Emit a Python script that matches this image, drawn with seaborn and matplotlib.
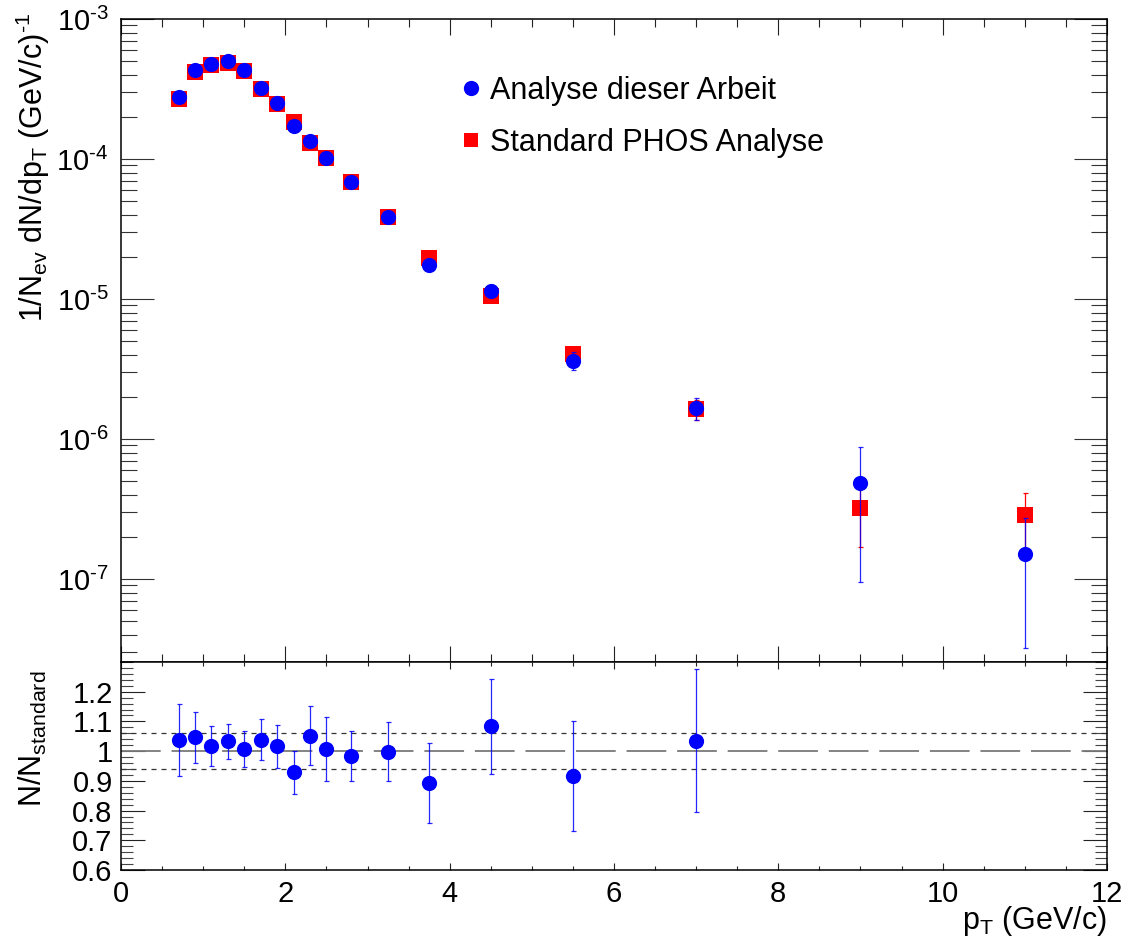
import numpy as np
import pandas as pd
import matplotlib
matplotlib.use("Agg")
import matplotlib.pyplot as plt
import seaborn as sns
from matplotlib.ticker import (MultipleLocator, LogLocator, FuncFormatter, NullFormatter,
                               FixedLocator)
from matplotlib.lines import Line2D

# ---------------- data ----------------
pt = [0.7, 0.9, 1.1, 1.3, 1.5, 1.7, 1.9, 2.1, 2.3, 2.5, 2.8, 3.25, 3.75, 4.5, 5.5, 7.0, 9.0, 11.0]
yield_this = [2.79e-4, 4.30e-4, 4.77e-4, 4.99e-4, 4.32e-4, 3.24e-4, 2.50e-4, 1.72e-4, 1.35e-4,
              1.01e-4, 6.89e-5, 3.83e-5, 1.75e-5, 1.15e-5, 3.63e-6, 1.67e-6, 4.85e-7, 1.52e-7]
err_this = [1.6e-5, 1.9e-5, 1.6e-5, 1.5e-5, 1.3e-5, 1.1e-5, 8.5e-6, 6.5e-6, 6.5e-6,
            5.5e-6, 3.0e-6, 2.0e-6, 1.1e-6, 1.0e-6, 0.52e-6, 0.30e-6, 3.9e-7, 1.2e-7]
yield_std = [2.68e-4, 4.16e-4, 4.69e-4, 4.85e-4, 4.28e-4, 3.15e-4, 2.47e-4, 1.83e-4, 1.30e-4,
             1.01e-4, 6.90e-5, 3.83e-5, 1.97e-5, 1.05e-5, 4.05e-6, 1.63e-6, 3.21e-7, 2.85e-7]
err_std = [1.2e-5, 1.5e-5, 1.3e-5, 1.2e-5, 1.0e-5, 0.9e-5, 7.0e-6, 5.0e-6, 5.0e-6,
           4.0e-6, 2.5e-6, 1.6e-6, 0.9e-6, 0.8e-6, 0.47e-6, 0.26e-6, 1.51e-7, 1.26e-7]

pt_ratio = [0.7, 0.9, 1.1, 1.3, 1.5, 1.7, 1.9, 2.1, 2.3, 2.5, 2.8, 3.25, 3.75, 4.5, 5.5, 7.0]
ratio = [1.037, 1.046, 1.016, 1.033, 1.008, 1.038, 1.016, 0.929, 1.052, 1.008, 0.985, 0.998,
         0.892, 1.083, 0.916, 1.035]
ratio_err = [0.120, 0.087, 0.067, 0.060, 0.060, 0.069, 0.072, 0.073, 0.099, 0.108, 0.084, 0.099,
             0.135, 0.159, 0.185, 0.240]

ratio_ticks = [0.6, 0.7, 0.8, 0.9, 1.0, 1.1, 1.2]
ratio_ticklabels = ['0.6', '0.7', '0.8', '0.9', '1', '1.1', '1.2']

label_this = "Analyse dieser Arbeit"
label_std = "Standard PHOS Analyse"

# ---------------- style ----------------
sns.set_theme(style="white")
plt.rcParams['font.family'] = ['Liberation Sans', 'DejaVu Sans']
plt.rcParams['mathtext.fontset'] = 'custom'
plt.rcParams['mathtext.rm'] = 'Liberation Sans'
plt.rcParams['mathtext.it'] = 'Liberation Sans:italic'
plt.rcParams['mathtext.default'] = 'regular'
for k in ['text.color', 'axes.labelcolor', 'xtick.color', 'ytick.color']:
    plt.rcParams[k] = 'black'

W, H = 1133, 947
fig = plt.figure(figsize=(W / 100, H / 100), dpi=100)
fig.patch.set_facecolor('white')

def fx(px):
    return px / W

def fy(py):
    return 1 - py / H

L, R = 121, 1107
ax1 = fig.add_axes([fx(L), fy(662), fx(R - L), fy(19) - fy(662)])
ax2 = fig.add_axes([fx(L), fy(870), fx(R - L), fy(662) - fy(870)])

df_this = pd.DataFrame({"pt": pt, "y": yield_this, "e": err_this})
df_std = pd.DataFrame({"pt": pt, "y": yield_std, "e": err_std})
df_ratio = pd.DataFrame({"pt": pt_ratio, "r": ratio, "e": ratio_err})

msize = 120  # points^2

# ---- top panel ----
ax1.errorbar(df_std.pt, df_std.y, yerr=df_std.e, fmt='none', ecolor='red',
             elinewidth=0.9, capsize=1.8, capthick=0.9, zorder=2)
sns.scatterplot(data=df_std, x="pt", y="y", ax=ax1, marker='s', color='red',
                s=msize, linewidth=0, zorder=3, legend=False)
ax1.errorbar(df_this.pt, df_this.y, yerr=df_this.e, fmt='none', ecolor='blue',
             elinewidth=0.9, capsize=1.8, capthick=0.9, zorder=4, alpha=0.85)
sns.scatterplot(data=df_this, x="pt", y="y", ax=ax1, marker='o', color='blue',
                s=msize, linewidth=0, zorder=5, legend=False)

def log_fmt(v, pos):
    e = int(round(np.log10(v)))
    if e < 0:
        return r"$10^{\text{-}%d}$" % (-e)
    return r"$10^{%d}$" % e

ax1.set_yscale('log')
ax1.set_xlim(0, 12)
ax1.set_ylim(10 ** (-3 - 643 / 140), 1e-3)
ax1.yaxis.set_major_locator(LogLocator(base=10, numticks=20))
ax1.yaxis.set_minor_locator(LogLocator(base=10, subs=np.arange(2, 10), numticks=20))
ax1.yaxis.set_major_formatter(FuncFormatter(log_fmt))
ax1.yaxis.set_minor_formatter(NullFormatter())
ax1.xaxis.set_major_locator(MultipleLocator(2))
ax1.xaxis.set_minor_locator(MultipleLocator(0.5))
ax1.set_xlabel("")
ax1.set_ylabel("")
ax1.tick_params(axis='y', which='major', direction='in', length=23.5, width=0.8,
                left=True, right=True, labelsize=21, pad=9, color='#333333')
ax1.tick_params(axis='y', which='minor', direction='in', length=11.5, width=0.8,
                left=True, right=True, color='#333333')
ax1.tick_params(axis='x', which='major', direction='in', length=11.5, width=0.8,
                top=True, bottom=True, labelbottom=False, color='#222222')
ax1.tick_params(axis='x', which='minor', direction='in', length=5.8, width=0.8,
                top=True, bottom=True, color='#222222')

handles = [Line2D([], [], marker='o', color='blue', linestyle='none', markersize=11, markeredgewidth=0),
           Line2D([], [], marker='s', color='red', linestyle='none', markersize=10.5, markeredgewidth=0)]
leg = ax1.legend(handles, [label_this, label_std], loc='upper left',
                 bbox_to_anchor=(fx(462), fy(76)), bbox_transform=fig.transFigure,
                 frameon=False, fontsize=22, handlelength=0.6, handletextpad=0.3,
                 labelspacing=0.72, borderpad=0, borderaxespad=0)

# ---- bottom panel ----
ax2.axhline(1.06, color='#333333', lw=0.9, ls=(0, (4, 4)), zorder=1)
ax2.axhline(0.94, color='#333333', lw=0.9, ls=(0, (4, 4)), zorder=1)
ax2.axhline(1.0, color='#7a7a7a', lw=1.3, ls=(0, (22, 6)), zorder=1)
ax2.errorbar(df_ratio.pt, df_ratio.r, yerr=df_ratio.e, fmt='none', ecolor='blue',
             elinewidth=0.9, capsize=1.8, capthick=0.9, zorder=3, alpha=0.85)
sns.scatterplot(data=df_ratio, x="pt", y="r", ax=ax2, marker='o', color='blue',
                s=msize, linewidth=0, zorder=4, legend=False)
ax2.set_xlim(0, 12)
ax2.set_ylim(0.6, 1.3)
ax2.set_xlabel("")
ax2.set_ylabel("")
ax2.xaxis.set_major_locator(MultipleLocator(2))
ax2.xaxis.set_minor_locator(MultipleLocator(0.5))
ax2.yaxis.set_major_locator(FixedLocator(ratio_ticks))
ax2.yaxis.set_minor_locator(MultipleLocator(0.02))
ax2.set_yticklabels(ratio_ticklabels)
ax2.tick_params(axis='y', which='major', direction='in', length=17, width=0.8,
                left=True, right=True, labelsize=21, pad=6, color='#222222')
ax2.tick_params(axis='y', which='minor', direction='in', length=8.5, width=0.8,
                left=True, right=True, color='#444444')
ax2.tick_params(axis='x', which='major', direction='in', length=5, width=0.8,
                top=True, bottom=True, labelsize=21, pad=7, color='#222222')
ax2.tick_params(axis='x', which='minor', direction='in', length=3, width=0.8,
                top=True, bottom=True, color='#222222')

for ax in (ax1, ax2):
    for sp in ax.spines.values():
        sp.set_linewidth(1.1)
        sp.set_color('black')
    ax.set_facecolor('white')

# ---- axis titles ----
fig.text(fx(33), fy(13), r"1/N$_{ev}$ dN/dp$_{T}$ (GeV/c)$^{\text{-}1}$", rotation=90,
         ha='center', va='top', fontsize=22)
fig.text(fx(33), fy(671), r"N/N$_{standard}$", rotation=90,
         ha='center', va='top', fontsize=22)
fig.text(fx(1107), fy(904), r"p$_{T}$ (GeV/c)", ha='right', va='top', fontsize=22)

fig.savefig("out.png", dpi=100, facecolor='white')
